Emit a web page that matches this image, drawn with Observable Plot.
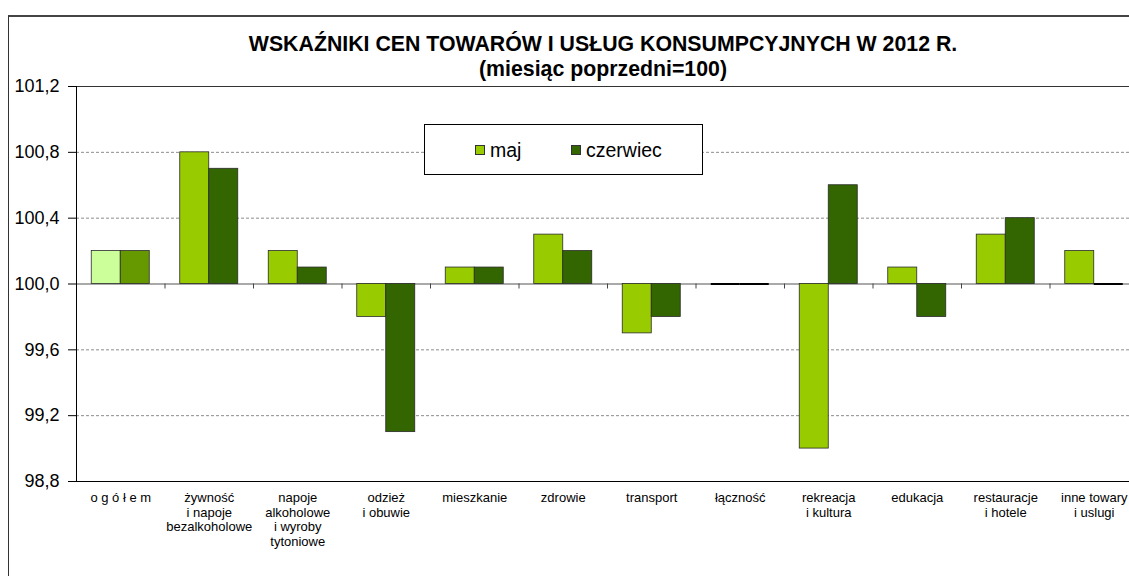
<!DOCTYPE html>
<html><head><meta charset="utf-8">
<script src="https://cdn.jsdelivr.net/npm/d3@7"></script>
<script src="https://cdn.jsdelivr.net/npm/@observablehq/plot@0.6"></script>
<style>
html,body{margin:0;padding:0;background:#fff;overflow:hidden;}
#wrap{position:relative;width:1129px;height:576px;overflow:hidden;font-family:"Liberation Sans",Arial,sans-serif;color:#000;}
#frame{position:absolute;left:8px;top:15px;width:1200px;height:700px;border-left:1.5px solid #333;border-top:2px solid #444;}
#chart{position:absolute;left:0;top:0;width:1140px;}
#chart svg{max-width:none !important;}
.title{position:absolute;left:0;width:1206px;text-align:center;font-weight:bold;font-size:21.3px;line-height:21px;white-space:nowrap;}
#legend{position:absolute;left:424px;top:124px;width:279px;height:51px;border:1px solid #000;background:#fff;box-sizing:border-box;}
.item{position:absolute;top:14px;height:22px;display:flex;align-items:center;font-size:19.5px;line-height:22px;}
.sw{width:8px;height:8px;border:1px solid #333;margin-right:5px;}
</style>
</head><body>
<div id="wrap">
  <div id="frame"></div>
  <div id="chart"></div>
  <div class="title" style="top:34px">WSKAŹNIKI CEN TOWARÓW I USŁUG KONSUMPCYJNYCH W 2012 R.</div>
  <div class="title" style="top:59px">(miesiąc poprzedni=100)</div>
  <div id="legend"></div>
</div>
<script>
const categories = ["o g ó ł e m", "żywność\ni napoje\nbezalkoholowe", "napoje\nalkoholowe\ni wyroby\ntytoniowe", "odzież\ni obuwie", "mieszkanie", "zdrowie", "transport", "łączność", "rekreacja\ni kultura", "edukacja", "restauracje\ni hotele", "inne towary\ni uslugi"];
const seriesNames = ["maj", "czerwiec"];
const maj = [100.2, 100.8, 100.2, 99.8, 100.1, 100.3, 99.7, 100.0, 99.0, 100.1, 100.3, 100.2];
const czerwiec = [100.2, 100.7, 100.1, 99.1, 100.1, 100.2, 99.8, 100.0, 100.6, 99.8, 100.4, 100.0];
const yTicks = [98.8, 99.2, 99.6, 100.0, 100.4, 100.8, 101.2];
const seriesColors = ["#99CC00", "#336600"];
const firstColors = ["#CCFF99", "#669900"];
const baseline = 100;

const W = 1140, ML = 76, MR = 2;
const step = (W - ML - MR) / categories.length;
const barW = 29;
const outer = step / 2 - barW;

const rows = [];
[maj, czerwiec].forEach((vals, s) => {
  vals.forEach((v, i) => rows.push({cat: categories[i], series: seriesNames[s], value: v,
    fill: i === 0 ? firstColors[s] : seriesColors[s]}));
});
const majRows = rows.filter(d => d.series === "maj");
const czRows = rows.filter(d => d.series === "czerwiec");

const chart = Plot.plot({
  width: W, height: 576,
  marginLeft: ML, marginRight: MR, marginTop: 86, marginBottom: 95,
  style: {fontFamily: "Liberation Sans, Arial, sans-serif", fontSize: "13px", color: "#000", overflow: "visible", maxWidth: "none"},
  x: {domain: categories, padding: 0, round: false, axis: null, label: null},
  y: {domain: [98.8, 101.2], axis: null, label: null},
  color: {type: "identity"},
  marks: [
    Plot.ruleY(yTicks.filter(t => t !== 98.8 && t !== 100 && t !== 101.2), {stroke: "#8c8c8c", strokeDasharray: "3,2", strokeWidth: 1}),
    Plot.ruleY([101.2], {stroke: "#333", strokeWidth: 1}),
    Plot.ruleY([baseline], {stroke: "#8c8c8c", strokeWidth: 1.3}),
    Plot.ruleX(categories.slice(1), {x: d => d, y1: baseline, y2: baseline, insetBottom: -5, dx: -step / 2, stroke: "#444", strokeWidth: 1}),
    Plot.barY(majRows, {x: "cat", y1: baseline, y2: "value", fill: "fill", stroke: "#2a2a2a", strokeWidth: 0.8, insetLeft: outer, insetRight: step / 2}),
    Plot.barY(czRows, {x: "cat", y1: baseline, y2: "value", fill: "fill", stroke: "#2a2a2a", strokeWidth: 0.8, insetLeft: step / 2, insetRight: outer}),
    Plot.tickY(majRows.filter(d => d.value === baseline), {x: "cat", y: "value", stroke: "#000", strokeWidth: 2, insetLeft: outer, insetRight: step / 2}),
    Plot.tickY(czRows.filter(d => d.value === baseline), {x: "cat", y: "value", stroke: "#000", strokeWidth: 2, insetLeft: step / 2, insetRight: outer}),
    Plot.frame({anchor: "left", stroke: "#000"}),
    Plot.frame({anchor: "bottom", stroke: "#000"}),
    Plot.axisY({ticks: yTicks, tickFormat: d => d.toFixed(1).replace(".", ","), tickSize: 8, tickPadding: 9, fontSize: 18, stroke: "#000", label: null}),
    Plot.axisX({tickSize: 0, tickPadding: 10, fontSize: 13, lineHeight: 1.13, label: null})
  ]
});
document.getElementById("chart").appendChild(chart);

const legend = document.getElementById("legend");
const legendLeft = [50, 146];
seriesNames.forEach((name, s) => {
  const it = document.createElement("div");
  it.className = "item";
  it.style.left = legendLeft[s] + "px";
  const sw = document.createElement("div");
  sw.className = "sw";
  sw.style.background = seriesColors[s];
  it.appendChild(sw);
  it.appendChild(document.createTextNode(name));
  legend.appendChild(it);
});
</script>
</body></html>
